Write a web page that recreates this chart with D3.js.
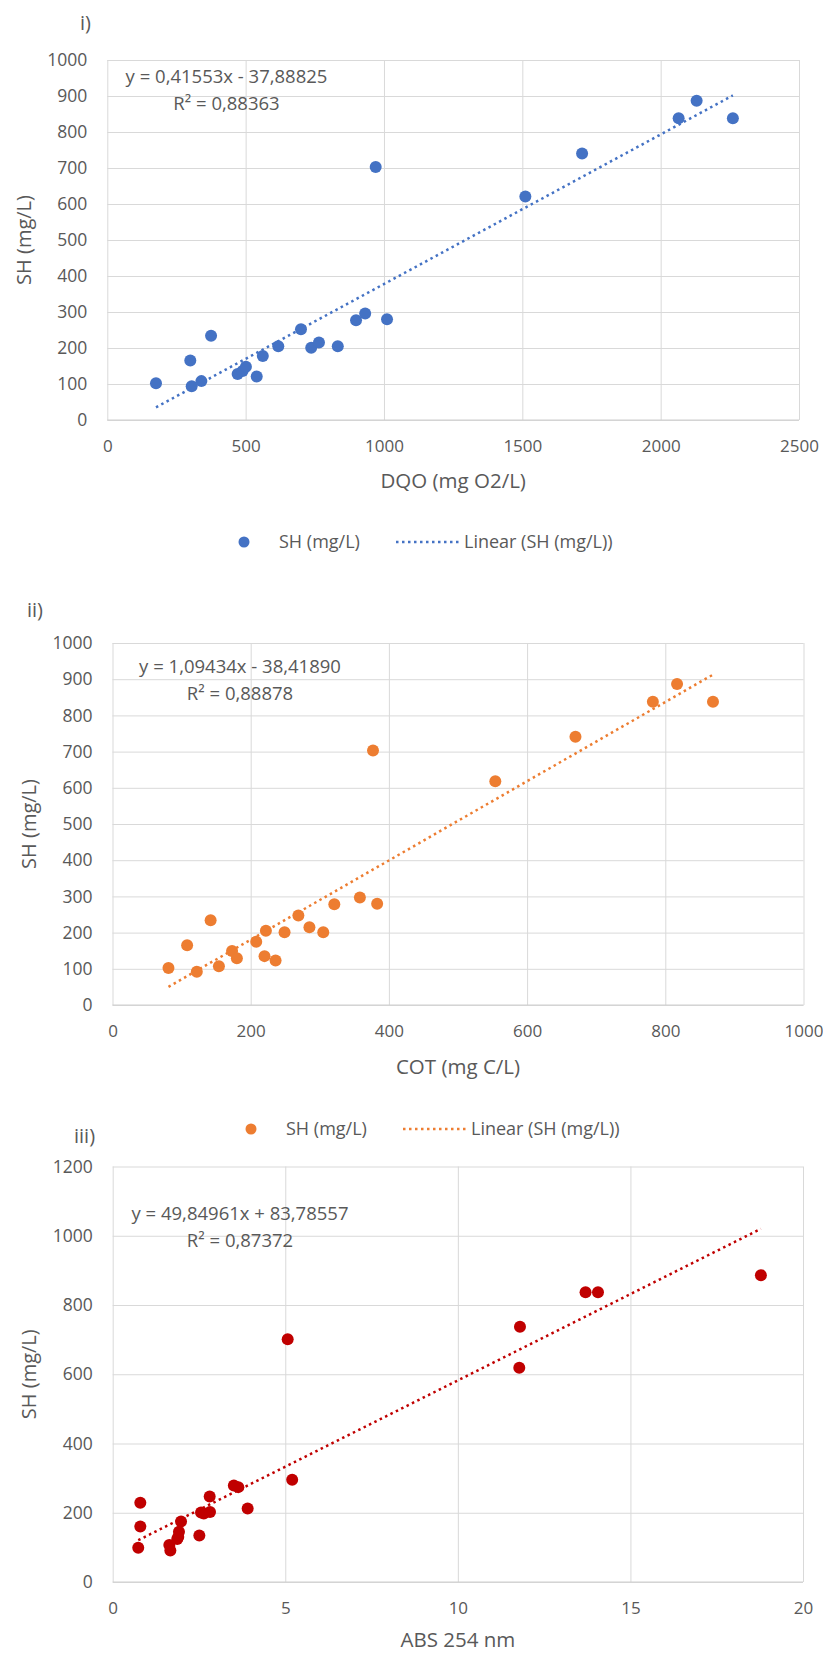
<!DOCTYPE html>
<html>
<head>
<meta charset="utf-8">
<script src="https://cdn.jsdelivr.net/npm/d3@7"></script>
<style>
  body { margin: 0; background: #fff; }
  text { font-family: "Open Sans", sans-serif; fill: #595959; }
</style>
</head>
<body>
<div id="vis"></div>
<script>
// --- i) DQO vs SH
const dqo = [176, 300, 305, 340, 375, 471, 489, 501, 540, 562, 618, 700, 737, 765, 833, 899, 932, 1011, 970, 1511, 1716, 2065, 2130, 2261];
const shDqo = [102, 165, 94, 108, 234, 128, 136, 148, 121, 178, 205, 252, 201, 215, 205, 277, 296, 280, 703, 621, 740, 838, 887, 838];
const dqoTicks = [0, 500, 1000, 1500, 2000, 2500];
const shTicks1 = [0, 100, 200, 300, 400, 500, 600, 700, 800, 900, 1000];
const fitDqo = [0.41553, -37.88825];
const eqDqo = ["y = 0,41553x - 37,88825", "R² = 0,88363"];

// --- ii) COT vs SH
const cot = [81, 108, 122, 142, 154, 173, 180, 208, 220, 222, 236, 249, 269, 285, 305, 321, 358, 383, 377, 554, 670, 782, 817, 869];
const shCot = [102, 165, 92, 234, 107, 149, 129, 175, 135, 205, 123, 201, 247, 215, 201, 278, 297, 280, 703, 618, 741, 838, 887, 838];
const cotTicks = [0, 200, 400, 600, 800, 1000];
const shTicks2 = [0, 100, 200, 300, 400, 500, 600, 700, 800, 900, 1000];
const fitCot = [1.09434, -38.41890];
const eqCot = ["y = 1,09434x - 38,41890", "R² = 0,88878"];

// --- iii) ABS 254 vs SH
const abs254 = [0.74, 0.80, 0.80, 1.64, 1.67, 1.87, 1.90, 1.92, 1.98, 2.51, 2.56, 2.64, 2.81, 2.82, 3.51, 3.64, 3.91, 5.2, 5.07, 11.8, 11.78, 13.7, 14.06, 18.78];
const shAbs = [99, 229, 160, 107, 91, 124, 130, 145, 175, 134, 201, 198, 247, 202, 279, 274, 212, 295, 701, 737, 619, 837, 837, 886];
const absTicks = [0, 5, 10, 15, 20];
const shTicks3 = [0, 200, 400, 600, 800, 1000, 1200];
const fitAbs = [49.84961, 83.78557];
const eqAbs = ["y = 49,84961x + 83,78557", "R² = 0,87372"];

const seriesName = "SH (mg/L)";
const trendName = "Linear (SH (mg/L))";

const svg = d3.select("#vis")
    .append("svg")
    .attr("width", 823)
    .attr("height", 1654);

const fmt = d => String(d);

function drawPanel(p) {
    const x = d3.scaleLinear()
        .domain([p.xTicks[0], p.xTicks[p.xTicks.length - 1]])
        .range([p.left, p.right]);
    const y = d3.scaleLinear()
        .domain([p.yTicks[0], p.yTicks[p.yTicks.length - 1]])
        .range([p.bottom, p.top]);
    const w = p.right - p.left;
    const h = p.bottom - p.top;

    // gridlines
    svg.append("g")
        .attr("transform", `translate(${p.left},0)`)
        .call(d3.axisLeft(y).tickValues(p.yTicks).tickSize(-w).tickFormat(""))
        .call(g => g.select(".domain").remove())
        .call(g => g.selectAll("line").attr("stroke", "#d9d9d9"));
    svg.append("g")
        .attr("transform", `translate(0,${p.bottom})`)
        .call(d3.axisBottom(x).tickValues(p.xTicks).tickSize(-h).tickFormat(""))
        .call(g => g.select(".domain").remove())
        .call(g => g.selectAll("line").attr("stroke", "#d9d9d9"));
    svg.append("line")
        .attr("x1", p.left).attr("x2", p.right)
        .attr("y1", p.bottom).attr("y2", p.bottom)
        .attr("stroke", "#cfcfcf");

    // tick labels
    svg.append("g")
        .attr("transform", `translate(${p.left},0)`)
        .call(d3.axisLeft(y).tickValues(p.yTicks).tickFormat(fmt).tickSize(0).tickPadding(20))
        .call(g => g.select(".domain").remove())
        .selectAll("text")
        .style("font-size", "17.5px").style("font-family", "Open Sans").attr("fill", "#595959");
    svg.append("g")
        .attr("transform", `translate(0,${p.bottom})`)
        .call(d3.axisBottom(x).tickValues(p.xTicks).tickFormat(fmt).tickSize(0).tickPadding(20))
        .call(g => g.select(".domain").remove())
        .selectAll("text")
        .style("font-size", "17px").style("font-family", "Open Sans").attr("fill", "#595959");

    // axis titles
    svg.append("text")
        .attr("x", (p.left + p.right) / 2)
        .attr("y", p.xTitleY)
        .attr("dy", "0.35em")
        .attr("text-anchor", "middle")
        .style("font-size", "20.5px")
        .text(p.xTitle);
    svg.append("text")
        .attr("transform", `translate(${p.yTitleX},${(p.top + p.bottom) / 2}) rotate(-90)`)
        .attr("dy", "0.35em")
        .attr("text-anchor", "middle")
        .style("font-size", "20px")
        .text(seriesName);

    // panel label
    svg.append("text")
        .attr("x", p.tagX).attr("y", p.tagY)
        .attr("dy", "0.35em")
        .style("font-size", "20px")
        .text(p.tag);

    // trendline over the data range
    const xr = d3.extent(p.xs);
    const line = d3.line().x(d => x(d)).y(d => y(p.fit[0] * d + p.fit[1]));
    svg.append("path")
        .datum(xr)
        .attr("d", line)
        .attr("fill", "none")
        .attr("stroke", p.color)
        .attr("stroke-width", 2.5)
        .attr("stroke-dasharray", "2.5,3.5");

    // points
    svg.append("g")
        .selectAll("circle")
        .data(p.xs)
        .enter()
        .append("circle")
        .attr("cx", d => x(d))
        .attr("cy", (d, i) => y(p.ys[i]))
        .attr("r", 6)
        .attr("fill", p.color);

    // equation
    const eq = svg.append("text")
        .attr("text-anchor", "middle")
        .style("font-size", "18.5px");
    eq.append("tspan").attr("x", p.eqX).attr("y", p.eqY).attr("dy", "0.35em").text(p.eq[0]);
    eq.append("tspan").attr("x", p.eqX).attr("y", p.eqY + 27).attr("dy", "0.35em").text(p.eq[1]);

    // legend
    if (p.legendY) {
        const lg = svg.append("g").attr("transform", `translate(0,${p.legendY})`);
        lg.append("circle").attr("cx", p.legendX).attr("cy", 0).attr("r", 5.5).attr("fill", p.color);
        lg.append("text").attr("x", p.legendX + 35).attr("dy", "0.35em")
            .style("font-size", "18px").text(seriesName);
        lg.append("line")
            .attr("x1", p.legendX + 152).attr("x2", p.legendX + 216)
            .attr("stroke", p.color).attr("stroke-width", 2.5)
            .attr("stroke-dasharray", "2.5,3.5");
        lg.append("text").attr("x", p.legendX + 220).attr("dy", "0.35em")
            .style("font-size", "18px").text(trendName);
    }
}

drawPanel({
    xs: dqo, ys: shDqo, xTicks: dqoTicks, yTicks: shTicks1, fit: fitDqo, eq: eqDqo,
    color: "#4472C4", xTitle: "DQO (mg O2/L)", tag: "i)",
    left: 107.3, right: 799, top: 60, bottom: 420,
    xTitleY: 481, yTitleX: 24, tagX: 80, tagY: 23,
    eqX: 226.5, eqY: 77, legendX: 244, legendY: 542
});

drawPanel({
    xs: cot, ys: shCot, xTicks: cotTicks, yTicks: shTicks2, fit: fitCot, eq: eqCot,
    color: "#ED7D31", xTitle: "COT (mg C/L)", tag: "ii)",
    left: 112.5, right: 803.5, top: 643, bottom: 1005,
    xTitleY: 1067, yTitleX: 29, tagX: 27, tagY: 610,
    eqX: 240, eqY: 667, legendX: 251, legendY: 1129
});

drawPanel({
    xs: abs254, ys: shAbs, xTicks: absTicks, yTicks: shTicks3, fit: fitAbs, eq: eqAbs,
    color: "#C00000", xTitle: "ABS 254 nm", tag: "iii)",
    left: 112.7, right: 803, top: 1166.5, bottom: 1582,
    xTitleY: 1640, yTitleX: 29, tagX: 74, tagY: 1136,
    eqX: 240, eqY: 1214, legendY: null
});
</script>
</body>
</html>
